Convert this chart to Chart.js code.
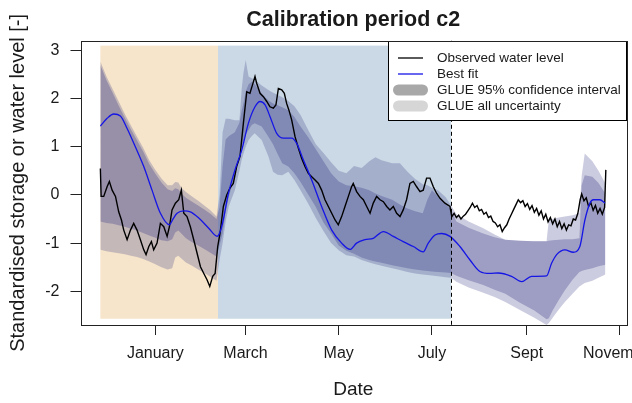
<!DOCTYPE html>
<html>
<head>
<meta charset="utf-8">
<script src="https://cdn.jsdelivr.net/npm/chart.js@4.4.1/dist/chart.umd.min.js"></script>
<style>
  html, body { margin: 0; padding: 0; background: #ffffff; overflow: hidden; }
  #wrap { width: 632px; height: 403px; }
</style>
</head>
<body>
<div id="wrap"><canvas id="chart" width="632" height="403"></canvas></div>
<script>
// Time axis: days counted from 1 January (day 0); negative days are the previous November/December.
const monthTickDays   = [0, 59, 120, 181, 243, 304];
const monthTickLabels = ['January', 'March', 'May', 'July', 'Sept', 'November'];
const yTickValues     = [-2, -1, 0, 1, 2, 3];

// Period boundaries (days)
const warmupPeriod      = [-36, 41];
const calibrationPeriod = [41, 193.5];
const validationStart   = 193.5;

// Observed water level (standardised)
const obsDays = [
  -36, -35.5, -33.8, -31.6, -30.1, -28.3, -26.1, -24.0, -22.2, -20.7, -18.5, -16.3, -14.2, -12.0, -9.8, -7.6,
  -6.1, -4.3, -2.6, -1.1, 1.1, 3.3, 5.5, 7.7, 9.2, 10.9, 13.1, 15.3, 17.0, 18.6, 20.7, 22.9,
  25.1, 27.3, 29.5, 31.7, 33.8, 35.6, 37.5, 39.1, 40.8, 42.3, 44.5, 46.7, 48.8, 51.0, 53.2, 55.4,
  57.6, 59.8, 61.9, 63.5, 65.2, 66.3, 68.5, 70.7, 72.9, 75.0, 77.2, 78.9, 80.5, 82.7, 84.4, 85.9,
  87.4, 89.2, 91.4, 93.6, 95.7, 97.9, 100.1, 102.3, 104.5, 106.7, 108.8, 111.0, 113.2, 115.4, 117.6, 119.7,
  121.9, 124.1, 126.3, 128.4, 129.5, 131.7, 133.9, 136.1, 138.3, 140.5, 142.6, 144.8, 147.0, 149.2, 151.4, 153.5,
  155.7, 157.9, 160.1, 162.2, 164.4, 166.6, 168.8, 171.0, 173.2, 175.3, 177.5, 179.7, 181.9, 184.1, 186.3, 189.5,
  192.8, 194, 195.5, 197, 198.5, 200, 201.5, 203, 204.5, 206, 207.5, 209, 210.5, 212, 213.5, 215,
  216.5, 218, 219.5, 221, 222.5, 224, 225.5, 227, 228.5, 230, 231.5, 233, 234.5, 236, 237.5, 239,
  240.5, 242, 243.5, 245, 246.5, 248, 249.5, 251, 252.5, 254, 255.5, 257, 258.5, 260, 261.5, 263,
  264.5, 266, 267.5, 269, 270.5, 272, 273.5, 275, 276.5, 278, 279, 280.5, 282, 283.5, 285, 286.5,
  288, 289.5, 291, 292.5, 294, 294.8
];
const obsLevel = [
  0.55, -0.03, -0.03, 0.17, 0.28, 0.10, -0.03, -0.35, -0.52, -0.73, -0.93, -0.73, -0.59, -0.73, -0.93, -1.14,
  -1.24, -1.07, -0.97, -1.14, -1.00, -0.59, -0.66, -0.86, -0.66, -0.31, -0.17, -0.10, 0.10, -0.38, -0.45, -0.66,
  -0.93, -1.21, -1.49, -1.63, -1.76, -1.90, -1.69, -1.63, -1.07, -0.80, -0.24, 0.00, 0.14, 0.24, 0.59, 0.80,
  1.49, 2.14, 2.11, 2.28, 2.46, 2.32, 2.11, 2.04, 1.94, 1.83, 1.80, 1.87, 2.21, 2.18, 2.11, 1.90,
  1.76, 1.56, 1.21, 0.97, 0.76, 0.59, 0.45, 0.38, 0.31, 0.24, 0.10, -0.10, -0.24, -0.38, -0.52, -0.62,
  -0.45, -0.24, -0.03, 0.17, 0.24, 0.07, -0.03, -0.10, -0.24, -0.38, -0.17, -0.03, -0.10, -0.14, -0.24, -0.31,
  -0.24, -0.38, -0.45, -0.31, -0.10, 0.24, 0.28, 0.17, 0.07, 0.10, 0.35, 0.35, 0.17, 0.03, -0.07, -0.17,
  -0.24, -0.45, -0.38, -0.47, -0.42, -0.50, -0.44, -0.40, -0.33, -0.26, -0.17, -0.26, -0.22, -0.33, -0.30, -0.40,
  -0.36, -0.47, -0.44, -0.55, -0.58, -0.66, -0.62, -0.76, -0.68, -0.62, -0.50, -0.40, -0.30, -0.20, -0.10, -0.16,
  -0.12, -0.24, -0.18, -0.30, -0.22, -0.36, -0.28, -0.42, -0.33, -0.50, -0.40, -0.56, -0.47, -0.60, -0.50, -0.66,
  -0.55, -0.70, -0.60, -0.73, -0.62, -0.64, -0.50, -0.52, -0.38, -0.10, 0.02, -0.12, -0.06, -0.24, -0.16, -0.32,
  -0.22, -0.38, -0.28, -0.40, -0.26, 0.52
];

// Best-fit simulation
const fitDays = [
  -36, -31.6, -27.2, -22.9, -18.5, -13.1, -7.6, -2.2, 3.3, 9.2, 11.5, 14.2, 18.6, 22.9, 28.4, 34.9,
  40.4, 43.4, 47.8, 52.1, 56.5, 60.9, 65.2, 68.5, 71.8, 75.0, 79.4, 83.8, 89.2, 92.5, 96.8, 102.3,
  108.8, 115.4, 121.9, 127.4, 131.7, 137.2, 142.6, 149.2, 155.7, 162.2, 168.8, 175.3, 178.6, 183.0, 187.4, 192.8,
  199.3, 205.9, 212.4, 219.0, 224.4, 233.1, 239.7, 246.2, 256.0, 259.3, 262.6, 268.0, 273.5, 277.8, 281.1, 284.4,
  286.6, 290.9, 294.2
];
const fitValue = [
  1.43, 1.59, 1.68, 1.64, 1.38, 1.00, 0.59, 0.10, -0.38, -0.62, -0.50, -0.38, -0.33, -0.35, -0.48, -0.69,
  -0.86, -0.66, 0.03, 0.52, 0.93, 1.49, 1.83, 1.94, 1.87, 1.63, 1.28, 1.18, 1.18, 1.07, 0.73, 0.31,
  -0.24, -0.73, -1.00, -1.13, -1.00, -0.93, -0.90, -0.76, -0.86, -0.97, -1.07, -1.18, -1.00, -0.83, -0.80, -0.86,
  -1.07, -1.35, -1.59, -1.63, -1.62, -1.69, -1.80, -1.69, -1.68, -1.42, -1.24, -1.14, -1.19, -1.07, -0.52, -0.17,
  -0.10, -0.10, -0.17
];

// GLUE uncertainty bounds
const bandDays = [
  -36, -32, -28, -24, -20, -16, -12, -8, -4, 0, 4, 8, 11, 13, 15, 17,
  20, 24, 28, 32, 36, 40, 42, 44, 46, 48, 52, 55, 56.5, 57.6, 59.1, 61,
  63, 65, 69.6, 74, 77, 80, 83, 87, 91, 95, 100, 105, 110, 115, 120, 125,
  130, 135, 140, 144, 148, 155, 160, 165, 170, 175, 178, 181, 185, 190, 193.5, 197,
  205, 214.6, 222, 229, 238.6, 248, 256, 257.5, 260, 264, 268, 273, 277.5, 279, 281, 286,
  290, 294.5
];
const allLower = [
  -1.14, -1.17, -1.19, -1.21, -1.23, -1.26, -1.29, -1.33, -1.38, -1.44, -1.50, -1.55, -1.52, -1.30, -1.26, -1.32,
  -1.40, -1.47, -1.55, -1.62, -1.70, -1.78, -1.35, -1.00, -0.55, -0.24, 0.10, 0.50, 0.73, 0.85, 1.00, 1.14,
  1.22, 1.28, 1.14, 0.80, 0.48, 0.42, 0.41, 0.48, 0.31, 0.10, -0.18, -0.48, -0.75, -1.00, -1.15, -1.25,
  -1.28, -1.35, -1.40, -1.44, -1.47, -1.52, -1.56, -1.60, -1.63, -1.65, -1.66, -1.67, -1.69, -1.71, -1.72, -1.80,
  -1.92, -2.03, -2.12, -2.22, -2.39, -2.55, -2.70, -2.66, -2.55, -2.38, -2.22, -2.05, -1.90, -1.87, -1.83, -1.78,
  -1.72, -1.65
];
const ci95Lower = [
  -0.55, -0.58, -0.60, -0.63, -0.66, -0.70, -0.74, -0.79, -0.84, -0.89, -0.94, -0.96, -0.92, -0.78, -0.74, -0.80,
  -0.90, -0.98, -1.05, -1.12, -1.20, -1.28, -1.05, -0.80, -0.35, -0.05, 0.40, 0.80, 1.00, 1.10, 1.25, 1.35,
  1.45, 1.49, 1.42, 1.21, 1.05, 0.85, 0.66, 0.59, 0.45, 0.27, 0.01, -0.25, -0.57, -0.80, -1.05, -1.16,
  -1.22, -1.30, -1.35, -1.38, -1.41, -1.46, -1.49, -1.52, -1.55, -1.57, -1.58, -1.59, -1.60, -1.61, -1.62, -1.68,
  -1.77, -1.87, -1.97, -2.05, -2.24, -2.40, -2.58, -2.56, -2.40, -2.18, -1.98, -1.76, -1.60, -1.58, -1.56, -1.52,
  -1.48, -1.45
];
const ci95Upper = [
  2.70, 2.38, 2.12, 1.85, 1.60, 1.36, 1.13, 0.90, 0.64, 0.44, 0.26, 0.12, 0.08, 0.14, 0.12, 0.03,
  -0.06, -0.14, -0.22, -0.30, -0.39, -0.50, -0.25, 0.60, 1.15, 1.22, 1.30, 1.50, 1.75, 1.90, 2.15, 2.30,
  2.35, 2.30, 2.10, 1.96, 1.90, 1.86, 1.82, 1.76, 1.62, 1.42, 1.20, 0.95, 0.70, 0.45, 0.28, 0.20,
  0.18, 0.15, 0.10, 0.03, -0.02, -0.10, -0.20, -0.28, -0.34, -0.38, -0.10, 0.10, -0.03, -0.20, -0.30, -0.55,
  -0.68, -0.80, -0.88, -0.93, -0.95, -0.96, -0.96, -0.95, -0.94, -0.93, -0.92, -0.92, -0.90, 0.20, 0.41, 0.38,
  0.25, 0.03
];
const allUpper = [
  2.77, 2.46, 2.20, 1.94, 1.68, 1.44, 1.21, 0.98, 0.72, 0.52, 0.34, 0.20, 0.20, 0.27, 0.26, 0.15,
  0.06, -0.03, -0.12, -0.22, -0.32, -0.45, 0.00, 1.30, 1.58, 1.58, 1.55, 1.55, 2.20, 2.52, 2.80, 2.46,
  2.42, 2.39, 2.27, 2.18, 2.12, 2.08, 2.03, 1.95, 1.84, 1.66, 1.35, 1.05, 0.87, 0.68, 0.50, 0.45,
  0.60, 0.56, 0.70, 0.78, 0.72, 0.66, 0.66, 0.48, 0.33, 0.22, 0.20, 0.15, 0.10, -0.05, -0.22, -0.40,
  -0.55, -0.69, -0.82, -0.93, -0.95, -0.96, -0.96, -0.52, -0.50, -0.47, -0.45, -0.42, -0.38, 0.40, 0.86, 0.70,
  0.50, 0.24
];

const FONT = "'Liberation Sans', Arial, sans-serif";
const TEXT = '#1a1a1a';
const shadeTop = 3.1, shadeBottom = -2.57;
const warmupFill = 'rgb(246,229,203)';
const calibrationFill = 'rgb(202,217,229)';
const allBandFill = 'rgba(50,50,130,0.25)';
const ciBandFill = 'rgba(50,50,130,0.30)';

const pts = (xs, ys) => xs.map((d, i) => ({ x: d, y: ys[i] }));

const legendItems = [
  { label: 'Observed water level', kind: 'line', color: '#000000' },
  { label: 'Best fit', kind: 'line', color: '#1515e6' },
  { label: 'GLUE 95% confidence interval', kind: 'pill', color: 'rgb(168,168,168)' },
  { label: 'GLUE all uncertainty', kind: 'pill', color: 'rgb(214,214,214)' }
];

const periodPlugin = {
  id: 'periods',
  beforeDatasetsDraw(chart) {
    const { ctx, chartArea: a, scales: { x, y } } = chart;
    ctx.save();
    ctx.beginPath();
    ctx.rect(a.left, a.top, a.width, a.height);
    ctx.clip();
    const top = y.getPixelForValue(shadeTop);
    const bot = y.getPixelForValue(shadeBottom);
    const x0 = x.getPixelForValue(warmupPeriod[0]);
    const x1 = x.getPixelForValue(warmupPeriod[1]);
    const x2 = x.getPixelForValue(calibrationPeriod[1]);
    ctx.fillStyle = warmupFill;
    ctx.fillRect(x0, top, x1 - x0, bot - top);
    ctx.fillStyle = calibrationFill;
    ctx.fillRect(x1, top, x2 - x1, bot - top);
    ctx.restore();
  },
  afterDatasetsDraw(chart) {
    const { ctx, chartArea: a, scales: { x } } = chart;
    ctx.save();
    // start of validation period
    const xv = Math.round(x.getPixelForValue(validationStart)) + 0.5;
    ctx.strokeStyle = '#000';
    ctx.lineWidth = 1;
    ctx.setLineDash([4, 3]);
    ctx.beginPath();
    ctx.moveTo(xv, a.top);
    ctx.lineTo(xv, a.bottom);
    ctx.stroke();
    ctx.setLineDash([]);

    // legend box in the top-right corner
    const lx = 388, ly = Math.round(a.top), lw = Math.round(a.right) - 388, lh = 79;
    ctx.fillStyle = '#fff';
    ctx.fillRect(lx, ly, lw, lh);
    ctx.strokeStyle = '#000';
    ctx.strokeRect(lx + 0.5, ly + 0.5, lw, lh);
    ctx.font = '13.5px ' + FONT;
    ctx.textBaseline = 'middle';
    ctx.textAlign = 'left';
    legendItems.forEach((it, i) => {
      const cy = ly + 17 + i * 16;
      if (it.kind === 'line') {
        ctx.strokeStyle = it.color;
        ctx.lineWidth = 1.3;
        ctx.beginPath();
        ctx.moveTo(398, cy);
        ctx.lineTo(423, cy);
        ctx.stroke();
      } else {
        ctx.fillStyle = it.color;
        ctx.beginPath();
        ctx.roundRect(393, cy - 5.5, 35, 11, 5.5);
        ctx.fill();
      }
      ctx.fillStyle = TEXT;
      ctx.fillText(it.label, 437, cy);
    });

    // plot frame
    ctx.strokeStyle = '#222';
    ctx.lineWidth = 1;
    ctx.strokeRect(Math.round(a.left) + 0.5, Math.round(a.top) + 0.5, Math.round(a.width), Math.round(a.height));
    ctx.restore();
  }
};

const noLine = { borderColor: 'rgba(0,0,0,0)', borderWidth: 0, pointRadius: 0 };

new Chart(document.getElementById('chart'), {
  type: 'line',
  data: {
    datasets: [
      Object.assign({ label: 'all lower', data: pts(bandDays, allLower), fill: false, order: 6 }, noLine),
      Object.assign({ label: 'GLUE all uncertainty', data: pts(bandDays, allUpper), fill: { target: 0 }, backgroundColor: allBandFill, order: 5 }, noLine),
      Object.assign({ label: '95 lower', data: pts(bandDays, ci95Lower), fill: false, order: 4 }, noLine),
      Object.assign({ label: 'GLUE 95% confidence interval', data: pts(bandDays, ci95Upper), fill: { target: 2 }, backgroundColor: ciBandFill, order: 3 }, noLine),
      { label: 'Observed water level', data: pts(obsDays, obsLevel), borderColor: '#000', borderWidth: 1.4,
        pointRadius: 0, fill: false, order: 2 },
      { label: 'Best fit', data: pts(fitDays, fitValue), borderColor: '#1515e6', borderWidth: 1.3,
        pointRadius: 0, fill: false, cubicInterpolationMode: 'monotone', order: 1 }
    ]
  },
  options: {
    responsive: false,
    animation: false,
    devicePixelRatio: 1,
    layout: { padding: { left: 0, right: 6, top: 0, bottom: 0 } },
    plugins: {
      legend: { display: false },
      tooltip: { enabled: false },
      title: {
        display: true,
        text: 'Calibration period c2',
        fullSize: false,
        color: TEXT,
        font: { family: FONT, size: 21.5, weight: 'bold' },
        padding: { top: 7, bottom: 8 }
      }
    },
    scales: {
      x: {
        type: 'linear',
        min: -49,
        max: 308,
        afterBuildTicks: (s) => { s.ticks = monthTickDays.map(v => ({ value: v })); },
        afterFit: (s) => { s.height = 78; s.paddingLeft = 0; s.paddingRight = 0; },
        ticks: {
          autoSkip: false, maxRotation: 0, padding: 9, color: TEXT,
          font: { family: FONT, size: 16 },
          callback: (v) => monthTickLabels[monthTickDays.indexOf(v)]
        },
        grid: { drawOnChartArea: false, drawTicks: true, tickLength: 10, color: '#222' },
        border: { display: false },
        title: { display: true, text: 'Date', color: TEXT, font: { family: FONT, size: 19 }, padding: { top: 0, bottom: 2 } }
      },
      y: {
        min: -2.7,
        max: 3.2,
        afterBuildTicks: (s) => { s.ticks = yTickValues.map(v => ({ value: v })); },
        afterFit: (s) => { s.width = 80.5; s.paddingTop = 0; s.paddingBottom = 0; },
        ticks: { padding: 11, color: TEXT, font: { family: FONT, size: 16 }, callback: (v) => String(v) },
        grid: { drawOnChartArea: false, drawTicks: true, tickLength: 10, color: '#222' },
        border: { display: false },
        title: { display: true, text: 'Standardised storage or water level [-]', color: TEXT,
                 font: { family: FONT, size: 20 }, padding: { top: 6, bottom: 0 } }
      }
    }
  },
  plugins: [periodPlugin]
});
</script>
</body>
</html>
